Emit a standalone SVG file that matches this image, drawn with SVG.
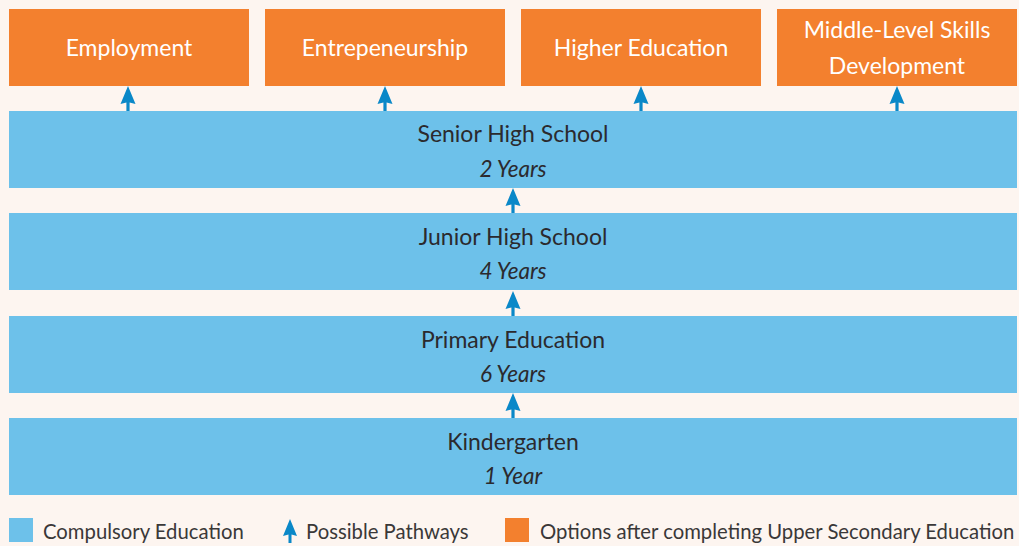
<svg xmlns="http://www.w3.org/2000/svg" width="1019" height="546" viewBox="0 0 1019 546">
<style>
.opt{fill:#f3802e}
.band{fill:#6dc1ea}
.ot{font-family:Lato,"Open Sans",sans-serif;font-size:23px;fill:#ffffff;text-anchor:middle}
.bt{font-family:Lato,"Open Sans",sans-serif;font-size:23px;fill:#2b2a2e;text-anchor:middle}
.bi{font-family:Lato,"Open Sans",sans-serif;font-size:22.5px;font-style:italic;fill:#2b2a2e;text-anchor:middle}
.lt{font-family:Lato,"Open Sans",sans-serif;font-size:20.3px;fill:#3a3838}
.ah{fill:#0a88c8}
</style>
<defs>
<g id="arrow"><path class="ah" d="M0,-25 L-7.5,-7 L-1.6,-8.5 L-1.6,0 L1.6,0 L1.6,-8.5 L7.5,-7 Z"/></g>
</defs>
<rect width="1019" height="546" fill="#fdf5f0"/>
<g id="opt-employment"><rect class="opt" x="9" y="9" width="240" height="77"/><text class="ot" x="129" y="56">Employment</text></g>
<g id="opt-entrepreneurship"><rect class="opt" x="265" y="9" width="240" height="77"/><text class="ot" x="385" y="56">Entrepeneurship</text></g>
<g id="opt-higher"><rect class="opt" x="521" y="9" width="240" height="77"/><text class="ot" x="641" y="56">Higher Education</text></g>
<g id="opt-middle"><rect class="opt" x="777" y="9" width="240" height="77"/><text class="ot" x="897" y="38">Middle-Level Skills</text><text class="ot" x="897" y="74">Development</text></g>
<g id="senior"><rect class="band" x="9" y="111" width="1008" height="77"/><text class="bt" x="513" y="142">Senior High School</text><text class="bi" x="513" y="177">2 Years</text></g>
<g id="junior"><rect class="band" x="9" y="213" width="1008" height="77"/><text class="bt" x="513" y="245">Junior High School</text><text class="bi" x="513" y="279">4 Years</text></g>
<g id="primary"><rect class="band" x="9" y="316" width="1008" height="77"/><text class="bt" x="513" y="348">Primary Education</text><text class="bi" x="513" y="382">6 Years</text></g>
<g id="kindergarten"><rect class="band" x="9" y="418" width="1008" height="77"/><text class="bt" x="513" y="450">Kindergarten</text><text class="bi" x="513" y="484">1 Year</text></g>
<g id="connectors">
<use href="#arrow" x="128" y="111"/>
<use href="#arrow" x="385" y="111"/>
<use href="#arrow" x="641" y="111"/>
<use href="#arrow" x="897" y="111"/>
<use href="#arrow" x="513" y="213"/>
<use href="#arrow" x="513" y="316"/>
<use href="#arrow" x="513" y="418"/>
</g>
<g id="legend">
<rect class="band" x="9" y="518" width="24" height="24"/>
<text class="lt" x="43" y="539">Compulsory Education</text>
<path class="ah" d="M290,519 L283,536 L288.5,534.5 L288.5,543 L291.5,543 L291.5,534.5 L297,536 Z"/>
<text class="lt" x="306" y="539">Possible Pathways</text>
<rect class="opt" x="505" y="518" width="24" height="24"/>
<text class="lt" x="540" y="539">Options after completing Upper Secondary Education</text>
</g>
</svg>
